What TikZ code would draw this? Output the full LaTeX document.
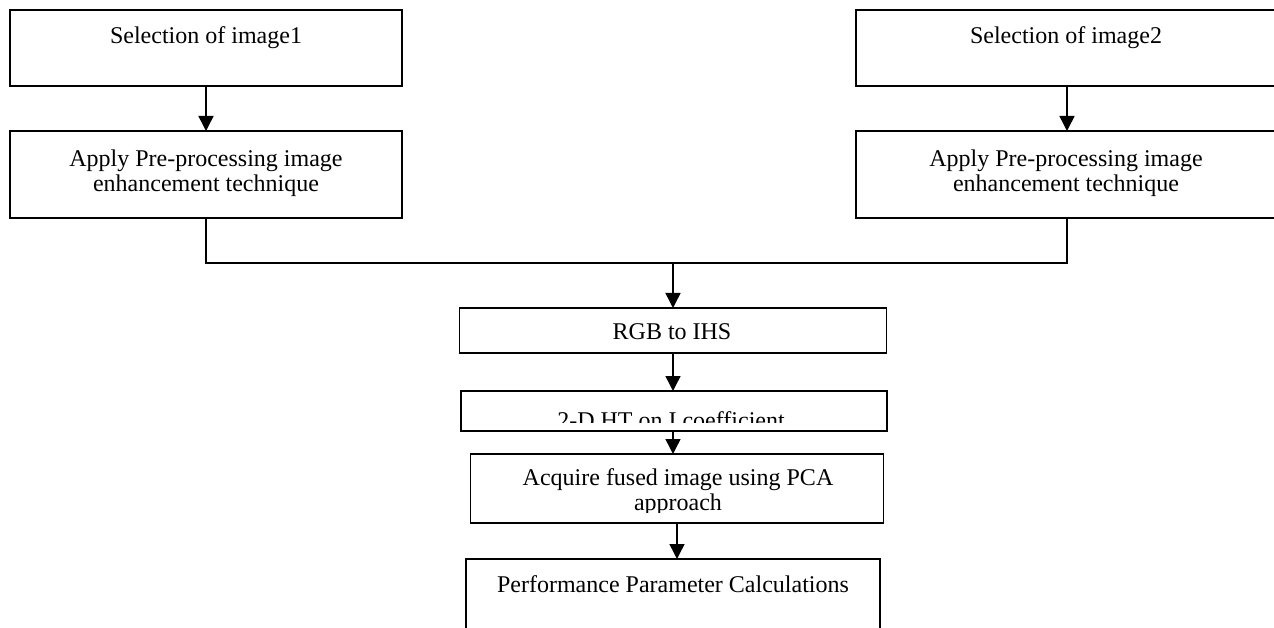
\documentclass[tikz,border=0pt]{standalone}
\usepackage{fontspec}
\setmainfont{Liberation Serif}
\usetikzlibrary{arrows.meta}
\begin{document}
\begin{tikzpicture}[x=1pt,y=-1pt,
  box/.style={draw, line width=1.5pt, inner sep=0pt, outer sep=0pt},
  lbl/.style={anchor=base, inner sep=0pt, align=center, font=\fontsize{24}{25}\selectfont},
  arr/.style={line width=1.5pt, -{Triangle[length=15pt,width=15pt]}},
  conn/.style={line width=1.5pt}]
\useasboundingbox (0,0) rectangle (1274,628);
% boxes
\node[box, minimum width=392pt, minimum height=76pt] (s1) at (206,48) {};
\node[box, minimum width=392pt, minimum height=87pt] (p1) at (206,174.5) {};
\node[box, minimum width=422pt, minimum height=76pt] (s2) at (1067,48) {};
\node[box, minimum width=422pt, minimum height=87pt] (p2) at (1067,174.5) {};
\node[box, minimum width=427pt, minimum height=45pt] (rgb) at (673,330.5) {};
\node[box, minimum width=426pt, minimum height=40pt] (ht) at (674,411) {};
\node[box, minimum width=413pt, minimum height=69pt] (acq) at (677,488.5) {};
\node[box, minimum width=414pt, minimum height=91pt] (perf) at (673,604.5) {};
% texts
\node[lbl] (t1) at (206,44) {Selection of image1};
\node[lbl] (t2) at (1066,44) {Selection of image2};
\node[lbl] (tp1) at (206,192) {Apply Pre-processing image\\enhancement technique};
\node[lbl] (tp2) at (1066,192) {Apply Pre-processing image\\enhancement technique};
\node[lbl] (trgb) at (672,339) {RGB to IHS};
\begin{scope}
  \clip (461,391) rectangle (887,422);
  \node[lbl] (tht) at (671,428) {2-D HT on I coefficient};
\end{scope}
\begin{scope}
  \clip (471,454) rectangle (884,512);
  \node[lbl] (tacq) at (678,510) {Acquire fused image using PCA\\approach};
\end{scope}
\node[lbl] (tperf) at (673,592) {Performance Parameter Calculations};
% connectors
\coordinate (j) at (673,263);
\draw[arr] (s1.south) -- (p1.north);
\draw[arr] (s2.south) -- (p2.north);
\draw[conn] (p1.south) |- (j) -| (p2.south);
\draw[arr] (j) -- (rgb.north -| j);
\draw[arr] (rgb.south) -- (ht.north -| rgb.south);
\draw[arr] (ht.south -| rgb.south) -- (acq.north -| rgb.south);
\draw[arr] (acq.south) -- (perf.north -| acq.south);
\end{tikzpicture}
\end{document}
